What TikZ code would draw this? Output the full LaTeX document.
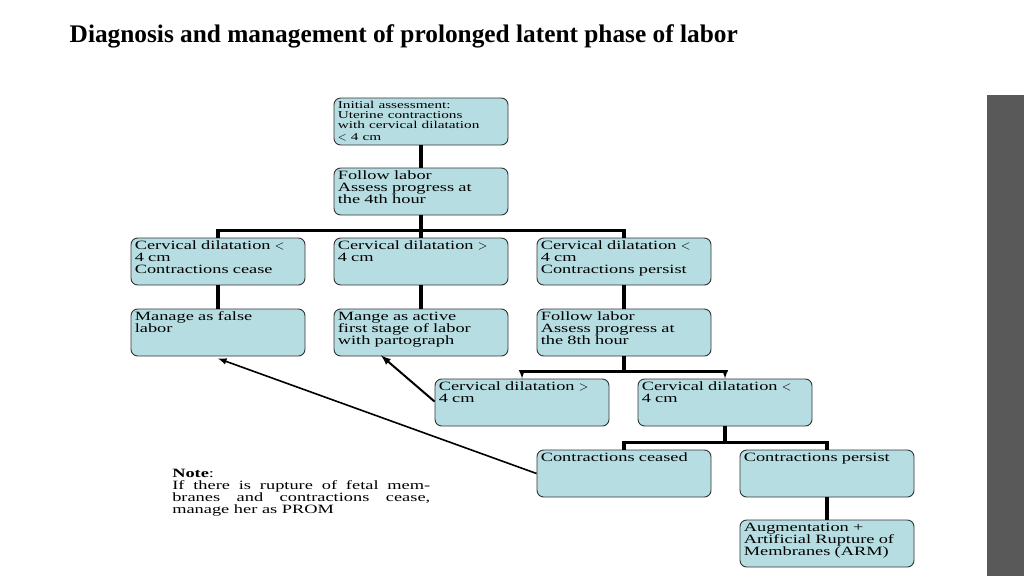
\documentclass[tikz,border=0pt]{standalone}
\usepackage{fontspec}
\setmainfont{Liberation Serif}
\newfontfamily\wideserif[FakeStretch=1.45]{Liberation Serif}
\usetikzlibrary{calc}
\definecolor{boxfill}{HTML}{B6DEE2}
\definecolor{sidebar}{HTML}{595959}
\tikzset{
  stepbox/.style={draw=black!80, fill=boxfill, rounded corners=5pt, line width=0.7pt,
    minimum width=174*0.75pt, minimum height=47*0.75pt, inner sep=0pt},
  boxtext/.style={anchor=north west, text width=172*0.75pt, align=left, inner sep=0pt,
    font=\wideserif\fontsize{9.5}{9}\selectfont},
  link/.style={line width=2.6pt},
  arrowlink/.style={line width=1.5pt, -latex}
}
\newcommand{\flowbox}[4]{%
  \node[stepbox] (#1) at (#2+87,#3+23.5) {};
  \node[boxtext] (#1-t) at ($(#1.north west)+(4,3)$) {#4};}
\begin{document}
\begin{tikzpicture}[x=0.75pt,y=-0.75pt]
    \useasboundingbox (0,0) rectangle (1024,576);
    \fill[sidebar] (987,95) rectangle (1024,576);

    % Title
    \node[anchor=west, font=\fontsize{19}{22}\selectfont\bfseries] (title) at (65,36)
      {Diagnosis and management of prolonged latent phase of labor};

    % Boxes
    \flowbox{init}{334}{98}{\fontsize{7.9}{7.6}\selectfont Initial assessment:\\Uterine contractions\\with cervical dilatation\\$<$ 4 cm}
    \flowbox{follow}{334}{168}{Follow labor\\Assess progress at\\the 4th hour}
    \flowbox{ceaseA}{131}{238}{Cervical dilatation $<$\\4 cm\\Contractions cease}
    \flowbox{active}{334}{238}{Cervical dilatation $>$\\4 cm}
    \flowbox{persistA}{537}{238}{Cervical dilatation $<$\\4 cm\\Contractions persist}
    \flowbox{false}{131}{309}{Manage as false\\labor}
    \flowbox{parto}{334}{309}{Mange as active\\first stage of labor\\with partograph}
    \flowbox{follow8}{537}{309}{Follow labor\\Assess progress at\\the 8th hour}
    \flowbox{gtB}{435}{379}{Cervical dilatation $>$\\4 cm}
    \flowbox{ltB}{638}{379}{Cervical dilatation $<$\\4 cm}
    \flowbox{ceased}{537}{450}{Contractions ceased}
    \flowbox{persist}{740}{450}{Contractions persist}
    \flowbox{arm}{740}{520}{Augmentation +\\Artificial Rupture of\\Membranes (ARM)}

    % Tree connectors
    \draw[link] (init) -- (follow);
    \draw[link] (follow.south) -- ++(0,15);
    \draw[link] (ceaseA.north) |- ($(follow.south)+(0,15)$) -| (persistA.north);
    \draw[link] (active.north) -- ++(0,-8);
    \draw[link] (ceaseA) -- (false);
    \draw[link] (active) -- (parto);
    \draw[link] (persistA) -- (follow8);
    \draw[link] (follow8.south) -- ++(0,16);
    \draw[line width=1.8pt] ($(gtB.north)+(0,-7)$) -- ($(ltB.north)+(0,-7)$);
    \draw[line width=1.2pt, -latex] ($(gtB.north)+(0,-7)$) -- (gtB.north);
    \draw[line width=1.2pt, -latex] ($(ltB.north)+(0,-7)$) -- (ltB.north);
    \draw[link] (ltB.south) -- ++(0,16);
    \draw[link] (ceased.north) |- ($(ltB.south)+(0,16)$) -| (persist.north);
    \draw[link] (persist) -- (arm);

    % Cross arrows
    \draw[line width=1.2pt, -latex] (ceased.west) -- ($(false.south)+(0,2)$);
    \draw[arrowlink] ($(gtB.west)+(0,-1)$) -- ($(parto.south)+(-40,-1)$);

    % Note
    \node[anchor=north west, text width=258*0.75pt, align=justify, inner sep=0pt,
      font=\wideserif\fontsize{9.5}{9}\selectfont] (note) at (172,469)
      {\hyphenpenalty=10000\relax\textbf{Note}:\\If there is rupture of fetal membranes and contractions cease, manage her as PROM};
\end{tikzpicture}
\end{document}
